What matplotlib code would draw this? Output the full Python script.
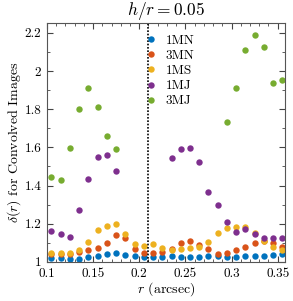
import numpy as np
import matplotlib
matplotlib.use("Agg")
import matplotlib.pyplot as plt
from matplotlib.ticker import MultipleLocator, FixedLocator, FixedFormatter

nan = np.nan
r = [0.105, 0.115, 0.125, 0.135, 0.145, 0.155, 0.165, 0.175, 0.185, 0.195,
     0.205, 0.215, 0.225, 0.235, 0.245, 0.255, 0.265, 0.275, 0.285, 0.295,
     0.305, 0.315, 0.325, 0.335, 0.345, 0.355]
mn1 = [1.018, 1.018, 1.017, 1.015, 1.023, 1.031, 1.039, 1.044, 1.038, 1.031,
       1.027, 1.027, 1.025, 1.030, 1.026, 1.026, 1.026, 1.031, 1.030, 1.026,
       1.027, 1.032, 1.033, 1.033, 1.038, 1.039]
mn3 = [1.041, 1.041, 1.043, 1.054, 1.062, 1.073, 1.101, 1.140, 1.127, 1.069,
       1.048, 1.048, 1.053, 1.070, 1.097, 1.110, 1.089, 1.065, 1.043, 1.046,
       1.060, 1.080, 1.097, 1.110, 1.097, 1.080]
ms1 = [1.045, 1.045, 1.044, 1.064, 1.105, 1.168, 1.189, 1.201, 1.145, 1.096,
       1.085, 1.092, 1.073, 1.064, 1.065, 1.072, 1.078, 1.106, 1.153, 1.176,
       1.185, 1.182, 1.153, 1.107, 1.077, 1.064]
mj1 = [1.164, 1.148, 1.131, 1.272, 1.436, 1.550, 1.558, 1.478, nan, nan,
       nan, nan, nan, 1.542, 1.590, 1.599, 1.525, 1.366, 1.298, 1.209,
       1.155, 1.173, 1.145, 1.126, 1.124, 1.127]
mj3 = [1.447, 1.429, 1.599, 1.800, 1.913, 1.810, 1.658, 1.590, nan, nan,
       nan, nan, nan, nan, nan, nan, nan, nan, nan, 1.731,
       1.910, 2.109, 2.188, 2.127, 1.935, 1.952]
labels = ["1MN", "3MN", "1MS", "1MJ", "3MJ"]
colors = ["#0072BD", "#D95319", "#EDB120", "#7E2F8E", "#77AC30"]
xticks = [0.1, 0.15, 0.2, 0.25, 0.3, 0.35]
xticklabels = ["0.1", "0.15", "0.2", "0.25", "0.3", "0.35"]
yticks = [1, 1.2, 1.4, 1.6, 1.8, 2, 2.2]
yticklabels = ["1", "1.2", "1.4", "1.6", "1.8", "2", "2.2"]
split = 0.21

plt.rcParams['font.family'] = 'serif'
plt.rcParams['font.serif'] = ['cmr10', 'DejaVu Serif']
plt.rcParams['mathtext.fontset'] = 'cm'
plt.rcParams['axes.formatter.use_mathtext'] = True

fig = plt.figure(figsize=(2.93, 3.01), dpi=100)
ax = fig.add_axes([0.160, 0.130, 0.813, 0.794])

for ys, lab, c in zip([mn1, mn3, ms1, mj1, mj3], labels, colors):
    ax.plot(r, ys, 'o', color=c, ms=4.6, mec='none', label=lab)

ax.axvline(split, color='black', ls=(0, (1, 1)), lw=1.2)

ax.set_xlim(0.1, 0.358)
ax.set_ylim(1, 2.252)
ax.xaxis.set_major_locator(FixedLocator(xticks))
ax.xaxis.set_major_formatter(FixedFormatter(xticklabels))
ax.yaxis.set_major_locator(FixedLocator(yticks))
ax.yaxis.set_major_formatter(FixedFormatter(yticklabels))
ax.xaxis.set_minor_locator(MultipleLocator(0.01))
ax.yaxis.set_minor_locator(MultipleLocator(0.1))
ax.tick_params(which='both', direction='in', top=True, right=True,
               labelsize=9.5, colors='#444444', labelcolor='black')
ax.tick_params(which='major', length=4, width=0.8)
ax.tick_params(which='minor', length=2, width=0.6)
ax.tick_params(axis='x', which='major', pad=4.5)
ax.tick_params(axis='y', which='major', pad=4)
for s in ax.spines.values():
    s.set_color('#555555')
    s.set_linewidth(0.8)

ax.set_title(r'$h/r = 0.05$', fontsize=12.5, pad=6)
ax.set_xlabel(r'$r$ (arcsec)', fontsize=10, labelpad=0)
ax.set_ylabel(r'$\delta(r)$ for Convolved Images', fontsize=10, labelpad=1)

ax.legend(loc='upper left', bbox_to_anchor=(0.37, 0.99), frameon=False,
          fontsize=9.5, handletextpad=0.6, labelspacing=0.22, borderpad=0.2,
          handlelength=1.0, markerscale=1.0)

fig.savefig('out.png', dpi=100)
